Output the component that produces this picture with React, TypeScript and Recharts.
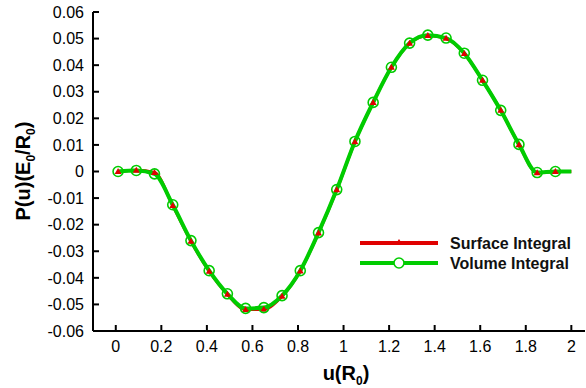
import { LineChart, Line, XAxis, YAxis } from "recharts";

// u(R0) sample positions where markers sit, plus the end of the curve at u = 2
const uValues = [
  0.01, 0.09, 0.17, 0.25, 0.33, 0.41, 0.49, 0.57, 0.65, 0.73, 0.81, 0.89, 0.97,
  1.05, 1.13, 1.21, 1.29, 1.37, 1.45, 1.53, 1.61, 1.69, 1.77, 1.85, 1.93, 2.0,
];

const surfaceIntegral = [
  0.0, 0.0005, -0.0004, -0.0128, -0.0262, -0.0375, -0.0462, -0.0519, -0.0518,
  -0.0469, -0.0374, -0.0231, -0.0069, 0.0112, 0.026, 0.0392, 0.0482, 0.0512,
  0.0501, 0.0444, 0.0343, 0.023, 0.0101, -0.0005, 0.0, 0.0,
];

const volumeIntegral = [
  0.0, 0.0004, -0.0009, -0.0125, -0.026, -0.0373, -0.046, -0.0515, -0.0512,
  -0.0467, -0.0373, -0.023, -0.0068, 0.0113, 0.026, 0.0392, 0.0483, 0.0513,
  0.0502, 0.0445, 0.0343, 0.023, 0.0102, -0.0004, 0.0, 0.0,
];

const xTicks = [0, 0.2, 0.4, 0.6, 0.8, 1, 1.2, 1.4, 1.6, 1.8, 2];
const yTicks = [
  -0.06, -0.05, -0.04, -0.03, -0.02, -0.01, 0, 0.01, 0.02, 0.03, 0.04, 0.05, 0.06,
];

const data = uValues.map((u, i) => ({
  u,
  surface: surfaceIntegral[i],
  volume: volumeIntegral[i],
}));

const FONT = '"Liberation Sans", Arial, sans-serif';
const RED = "#e00000";
const GREEN = "#00cc00";

const fmtX = (v: number) => String(Number(v.toFixed(1)));
const fmtY = (v: number) => (Math.abs(v) < 1e-9 ? "0" : v.toFixed(2));

// no marker on the closing point at u = 2
const TriangleDot = (props: any) => {
  const { cx, cy, payload, index } = props;
  if (payload.u >= 2) return <g key={`t-${index}`} />;
  return (
    <path
      key={`t-${index}`}
      d={`M${cx},${cy - 3.5} L${cx + 3.5},${cy + 2.5} L${cx - 3.5},${cy + 2.5} Z`}
      fill={RED}
    />
  );
};

const CircleDot = (props: any) => {
  const { cx, cy, payload, index } = props;
  if (payload.u >= 2) return <g key={`c-${index}`} />;
  return (
    <circle
      key={`c-${index}`}
      cx={cx}
      cy={cy}
      r={5}
      fill="none"
      stroke={GREEN}
      strokeWidth={1.6}
    />
  );
};

const XLabel = () => (
  <text x={346} y={380} textAnchor="middle" fontFamily={FONT} fontSize={20} fontWeight="bold" fill="#000">
    u(R
    <tspan fontSize={12} dy={5}>0</tspan>
    <tspan dy={-5}>)</tspan>
  </text>
);

const YLabel = () => (
  <text
    x={0}
    y={0}
    transform="translate(30,171) rotate(-90)"
    textAnchor="middle"
    fontFamily={FONT}
    fontSize={20}
    fontWeight="bold"
    fill="#000"
  >
    P(u)(E
    <tspan fontSize={12} dy={5}>0</tspan>
    <tspan dy={-5}>/R</tspan>
    <tspan fontSize={12} dy={5}>0</tspan>
    <tspan dy={-5}>)</tspan>
  </text>
);

const LegendBox = () => (
  <svg width={230} height={50} style={{ position: "absolute", left: 355, top: 232 }}>
    <line x1={5} y1={11} x2={83} y2={11} stroke={RED} strokeWidth={4} />
    <path d="M44,7 L48,13 L40,13 Z" fill={RED} />
    <text x={95} y={17} fontFamily={FONT} fontSize={16} fontWeight="bold" fill="#111">
      Surface Integral
    </text>
    <line x1={5} y1={31} x2={83} y2={31} stroke={GREEN} strokeWidth={4} />
    <circle cx={44} cy={31} r={5} fill="#fff" stroke={GREEN} strokeWidth={1.6} />
    <text x={95} y={37} fontFamily={FONT} fontSize={16} fontWeight="bold" fill="#111">
      Volume Integral
    </text>
  </svg>
);

export default function App() {
  return (
    <div style={{ position: "absolute", left: 0, top: 0, width: 586, height: 388, background: "#fff" }}>
      <LineChart width={586} height={388} data={data} margin={{ top: 12, right: 1, left: 0, bottom: 0 }}>
        <XAxis
          dataKey="u"
          type="number"
          domain={[-0.1, 2.06]}
          allowDataOverflow
          ticks={xTicks}
          tickFormatter={fmtX}
          height={57}
          stroke="#000"
          strokeWidth={2}
          tickSize={-6}
          tickMargin={16}
          tick={{ fill: "#000", fontSize: 16, fontFamily: FONT }}
          interval={0}
          label={{ content: XLabel }}
        />
        <YAxis
          type="number"
          domain={[-0.06, 0.06]}
          allowDataOverflow
          ticks={yTicks}
          tickFormatter={fmtY}
          width={93}
          stroke="#000"
          strokeWidth={2}
          tickSize={-6}
          tickMargin={15}
          tick={{ fill: "#000", fontSize: 16, fontFamily: FONT }}
          interval={0}
          label={{ content: YLabel }}
        />
        <Line
          type="monotone"
          dataKey="surface"
          stroke={RED}
          strokeWidth={3}
          dot={TriangleDot}
          activeDot={false}
          isAnimationActive={false}
        />
        <Line
          type="monotone"
          dataKey="volume"
          stroke={GREEN}
          strokeWidth={4}
          dot={CircleDot}
          activeDot={false}
          isAnimationActive={false}
        />
      </LineChart>
      <LegendBox />
    </div>
  );
}
